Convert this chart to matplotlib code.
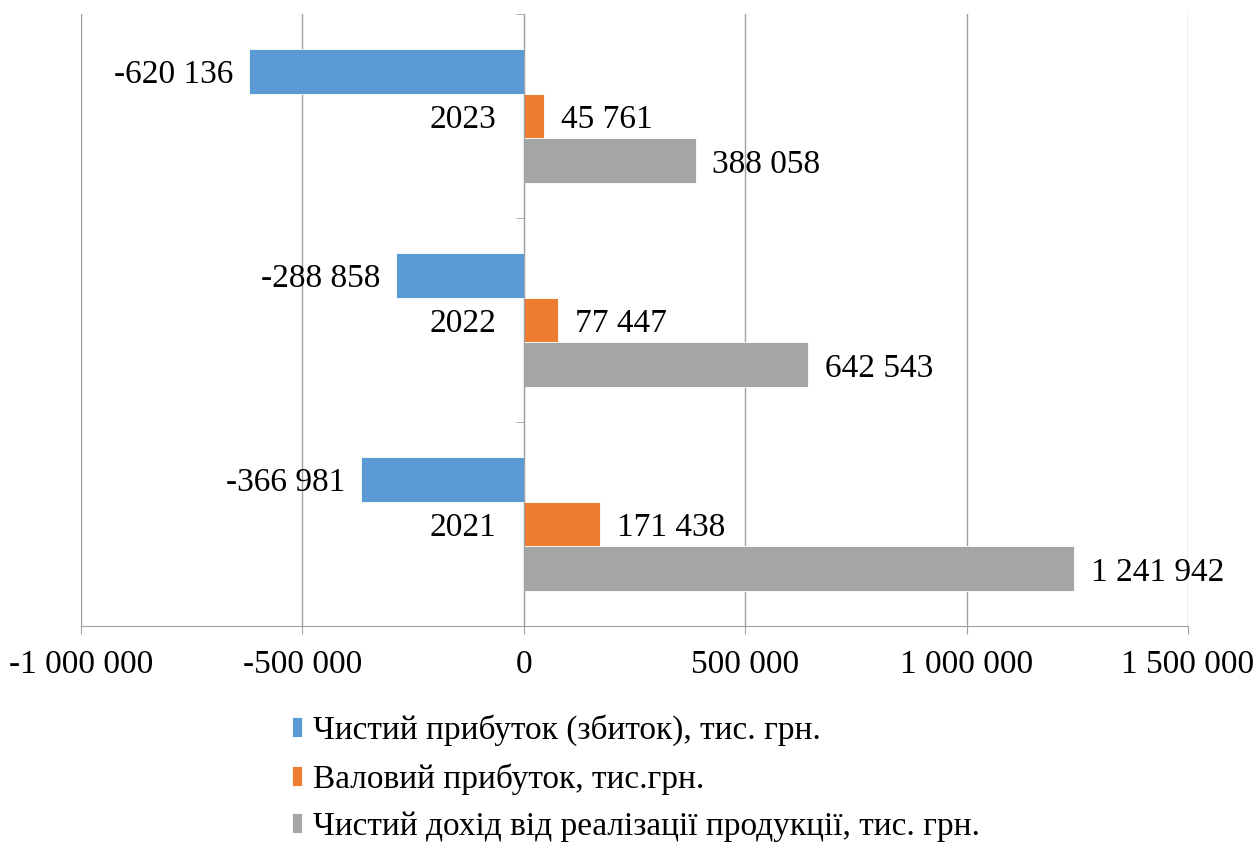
import numpy as np
import matplotlib.pyplot as plt
from matplotlib.ticker import FuncFormatter, FixedLocator

plt.rcParams['font.family'] = ['Liberation Serif', 'DejaVu Serif']

years = ['2021', '2022', '2023']
net_profit = [-366981, -288858, -620136]
gross_profit = [171438, 77447, 45761]
revenue = [1241942, 642543, 388058]
series_names = ['Чистий прибуток (збиток), тис. грн.',
                'Валовий прибуток, тис.грн.',
                'Чистий дохід від реалізації продукції, тис. грн.']
colors = ['#5B9BD5', '#ED7D31', '#A5A5A5']


def fmt(v):
    s = f"{abs(int(v)):,}".replace(',', ' ')
    return ('-' if v < 0 else '') + s


fig = plt.figure(figsize=(12.55, 8.43), dpi=100)
ax = fig.add_axes([81 / 1255, 1 - 626 / 843, (1188 - 81) / 1255, (626 - 14) / 843])

y = np.arange(len(years))
h = 0.22
offsets = [h, 0, -h]
handles = []
for vals, off, c, name in zip([net_profit, gross_profit, revenue], offsets, colors, series_names):
    b = ax.barh(y + off, vals, height=h, color=c, label=name, edgecolor='white', linewidth=0.6)
    handles.append(b)
    for yi, v in zip(y + off, vals):
        if v < 0:
            ax.text(v - 36000, yi, fmt(v), ha='right', va='center_baseline', fontsize=24)
        else:
            ax.text(v + 38000, yi, fmt(v), ha='left', va='center_baseline', fontsize=24)

ax.set_xlim(-1000000, 1500000)
ax.set_ylim(-0.5, 2.5)
ax.set_xticks(np.arange(-1000000, 1500001, 500000))
ax.xaxis.set_major_formatter(FuncFormatter(lambda v, p: fmt(v)))
ax.tick_params(axis='x', labelsize=24, length=6, color='#A0A0A0', pad=11)
ax.grid(axis='x', color='#A0A0A0', linewidth=1)
ax.set_axisbelow(True)

# category axis sits at x = 0
ax.spines['left'].set_position(('data', 0))
ax.spines['left'].set_color('#A0A0A0')
ax.spines['bottom'].set_color('#A0A0A0')
ax.spines['top'].set_visible(False)
ax.spines['right'].set_visible(False)
ax.set_yticks(y)
ax.set_yticklabels(years)
ax.yaxis.set_minor_locator(FixedLocator([-0.5, 0.5, 1.5, 2.5]))
ax.tick_params(axis='y', which='major', length=0, labelsize=24, pad=20)
ax.tick_params(axis='y', which='minor', length=6, color='#A0A0A0')

fig.legend(handles=handles, loc='upper center', bbox_to_anchor=(0.507, 0.172),
           ncol=1, frameon=False, fontsize=24, handlelength=0.28, handleheight=0.55,
           handletextpad=0.35, labelspacing=0.5, borderpad=0, alignment='left')

fig.savefig('out.png', dpi=100)
